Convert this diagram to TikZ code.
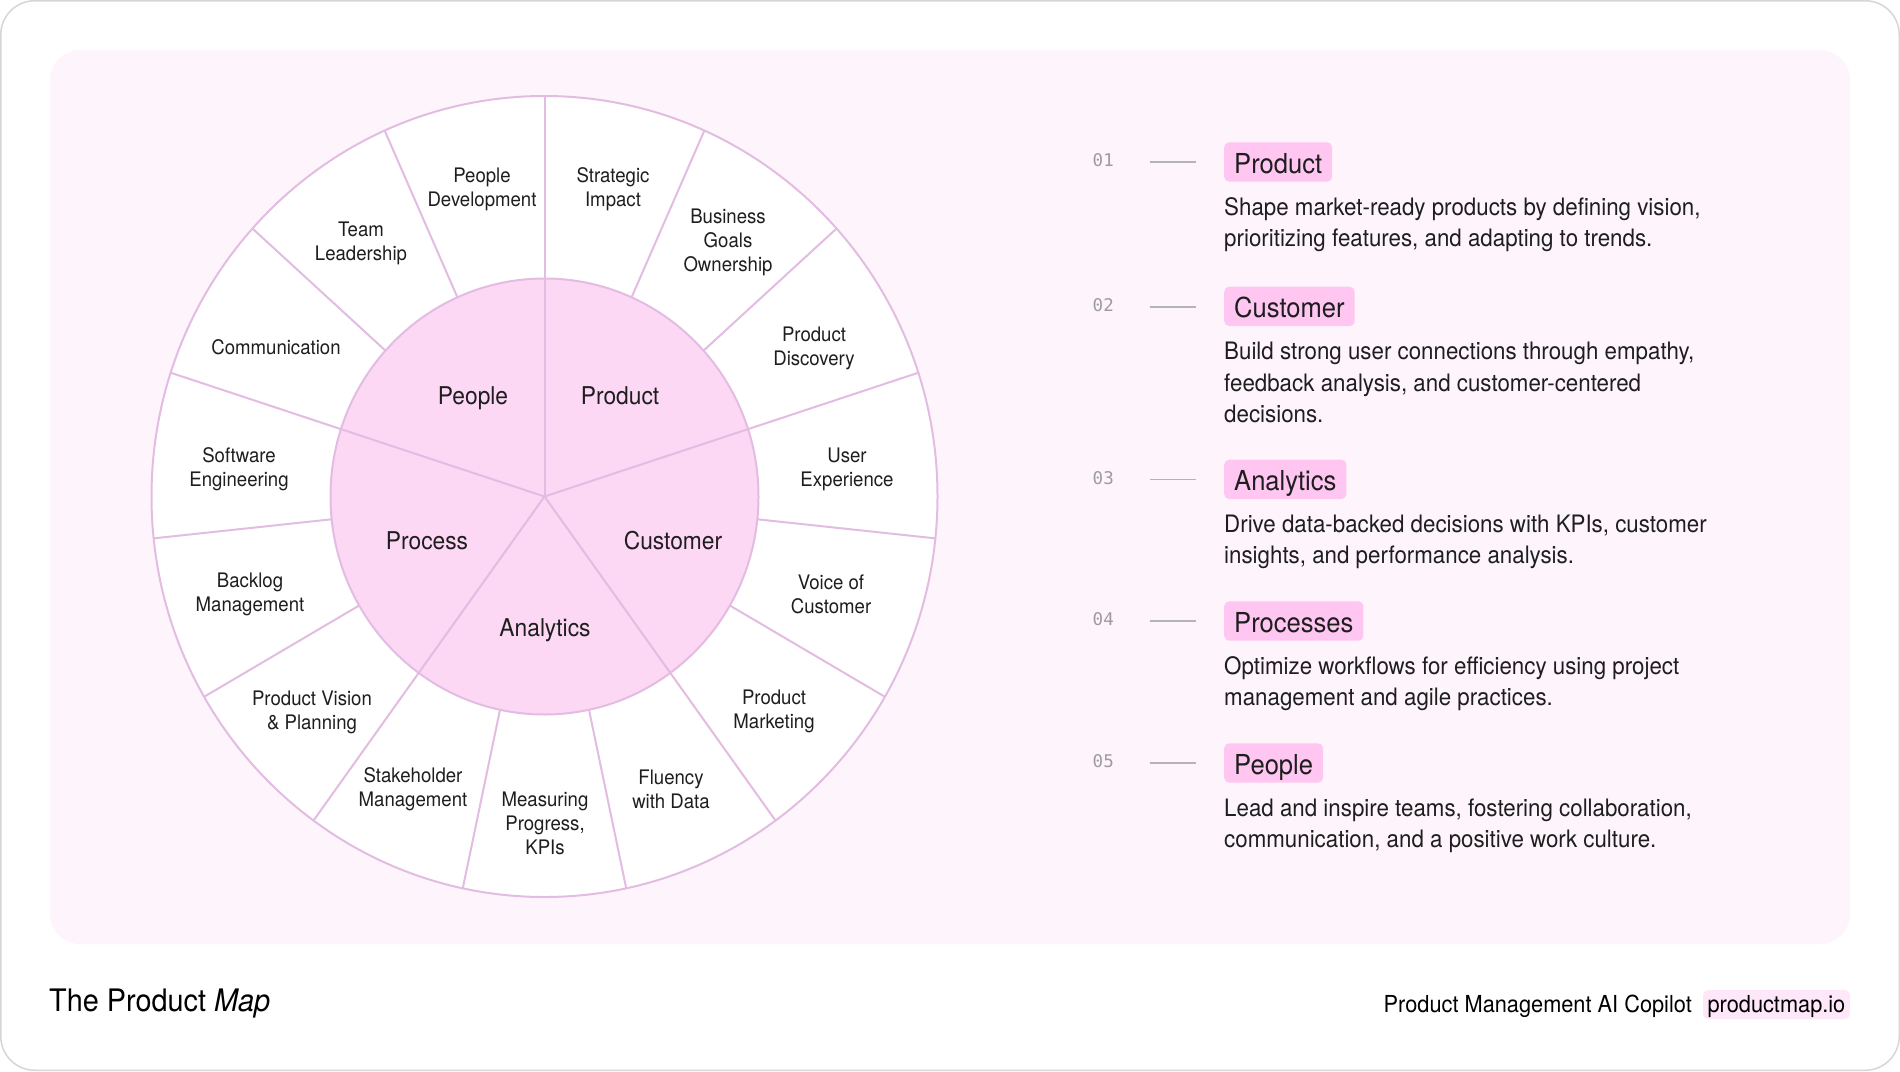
\documentclass[tikz,border=0pt]{standalone}
\usepackage{fontspec}
\setmainfont{TeX Gyre Heros}[FakeStretch=0.93]
\newfontfamily\numfont{DejaVu Sans Mono}
\definecolor{framegray}{HTML}{D6D6D6}
\definecolor{panelbg}{HTML}{FEF5FC}
\definecolor{wheelline}{HTML}{E3BCE2}
\definecolor{corefill}{HTML}{FCD8F5}
\definecolor{tagfill}{HTML}{FEC6F1}
\definecolor{urlfill}{HTML}{FDE7F9}
\definecolor{ink}{HTML}{1E1E1E}
\definecolor{numgray}{HTML}{9C9C9C}
\definecolor{dashgray}{HTML}{B4B4B4}
\begin{document}
\begin{tikzpicture}[x=1pt,y=-1pt,
  wheel/.style={draw=wheelline, line width=2pt},
  seglabel/.style={align=center, text=ink, font=\fontsize{20}{24.2}\selectfont, inner sep=0pt},
  corelabel/.style={text=ink, font=\fontsize{24.5}{28}\selectfont, inner sep=0pt, text height=17.5pt, text depth=5pt},
  numlabel/.style={anchor=base west, text=numgray, font=\numfont\fontsize{17.5}{20}\selectfont, inner sep=0pt},
  dashline/.style={draw=dashgray, line width=1.8pt},
  tagbox/.style={anchor=base west, fill=tagfill, rounded corners=5pt, text=ink,
    font=\fontsize{27.5}{30}\selectfont, inner xsep=10pt, inner ysep=8.4pt, text height=22.6pt, text depth=0pt},
  desc/.style={anchor=base west, text=ink, font=\fontsize{24}{31.6}\selectfont, inner sep=0pt},
  urlbox/.style={anchor=base east, fill=urlfill, rounded corners=5pt, text=black,
    font=\fontsize{23.4}{26}\selectfont, inner xsep=4.5pt, inner ysep=6pt, text height=16.3pt, text depth=0.7pt}
]
\useasboundingbox (0,0) rectangle (1900,1071);
\fill[white] (0,0) rectangle (1900,1071);
\draw[framegray, line width=1.5pt, rounded corners=34pt] (0.75,0.75) rectangle (1899.25,1070.25);
\fill[panelbg, rounded corners=30pt] (50,50) rectangle (1850,944);

% wheel
\begin{scope}[shift={(544.5,496.5)}]
  \filldraw[fill=white, wheel] (0,0) ellipse [x radius=393pt, y radius=400.5pt];
  \foreach \a in {18,42,...,354}
    \draw[wheel] (\a:214pt and 218pt) -- (\a:393pt and 400.5pt);
  \filldraw[fill=corefill, wheel] (0,0) ellipse [x radius=214pt, y radius=218pt];
  \foreach \a in {18,90,...,306}
    \draw[wheel] (0,0) -- (\a:214pt and 218pt);
\end{scope}

% outer ring labels
\node[seglabel] (s01) at (482,189.5) {People\\Development};
\node[seglabel] (s02) at (613,189.5) {Strategic\\Impact};
\node[seglabel] (s03) at (728,242.5) {Business\\Goals\\Ownership};
\node[seglabel] (s04) at (814,348.5) {Product\\Discovery};
\node[seglabel] (s05) at (847,469.5) {User\\Experience};
\node[seglabel] (s06) at (831,594.5) {Voice of\\Customer};
\node[seglabel] (s07) at (774,711.5) {Product\\Marketing};
\node[seglabel] (s08) at (671,789.5) {Fluency\\with Data};
\node[seglabel] (s09) at (545,823.5) {Measuring\\Progress,\\KPIs};
\node[seglabel] (s10) at (413,789.5) {Stakeholder\\Management};
\node[seglabel] (s11) at (312,712) {Product Vision\\\& Planning};
\node[seglabel] (s12) at (250,594.5) {Backlog\\Management};
\node[seglabel] (s13) at (239,469.5) {Software\\Engineering};
\node[seglabel] (s14) at (276,347.5) {Communication};
\node[seglabel] (s15) at (361,243.5) {Team\\Leadership};

% core labels
\node[corelabel] (c1) at (473,398) {People};
\node[corelabel] (c2) at (620,398) {Product};
\node[corelabel] (c3) at (673,543.5) {Customer};
\node[corelabel] (c4) at (545,630.5) {Analytics};
\node[corelabel] (c5) at (427,543.5) {Process};

% right column
\node[numlabel] (n1) at (1092.5,166.7) {01};
\coordinate (a1) at (1150,162.2); \coordinate (b1) at (1196,162.2);
\draw[dashline] (a1) -- (b1);
\node[tagbox] (t1) at (1224,173.3) {Product};
\node[desc] (d11) at (1224,215.0) {Shape market-ready products by defining vision,};
\node[desc] (d12) at (1224,246.6) {prioritizing features, and adapting to trends.};

\node[numlabel] (n2) at (1092.5,311.1) {02};
\coordinate (a2) at (1150,306.6); \coordinate (b2) at (1196,306.6);
\draw[dashline] (a2) -- (b2);
\node[tagbox] (t2) at (1224,317.7) {Customer};
\node[desc] (d21) at (1224,359.4) {Build strong user connections through empathy,};
\node[desc] (d22) at (1224,391.0) {feedback analysis, and customer-centered};
\node[desc] (d23) at (1224,422.6) {decisions.};

\node[numlabel] (n3) at (1092.5,484.0) {03};
\coordinate (a3) at (1150,479.5); \coordinate (b3) at (1196,479.5);
\draw[dashline] (a3) -- (b3);
\node[tagbox] (t3) at (1224,490.6) {Analytics};
\node[desc] (d31) at (1224,532.3) {Drive data-backed decisions with KPIs, customer};
\node[desc] (d32) at (1224,563.9) {insights, and performance analysis.};

\node[numlabel] (n4) at (1092.5,625.7) {04};
\coordinate (a4) at (1150,621.2); \coordinate (b4) at (1196,621.2);
\draw[dashline] (a4) -- (b4);
\node[tagbox] (t4) at (1224,632.3) {Processes};
\node[desc] (d41) at (1224,674.0) {Optimize workflows for efficiency using project};
\node[desc] (d42) at (1224,705.6) {management and agile practices.};

\node[numlabel] (n5) at (1092.5,767.7) {05};
\coordinate (a5) at (1150,763.2); \coordinate (b5) at (1196,763.2);
\draw[dashline] (a5) -- (b5);
\node[tagbox] (t5) at (1224,774.3) {People};
\node[desc] (d51) at (1224,816.0) {Lead and inspire teams, fostering collaboration,};
\node[desc] (d52) at (1224,847.6) {communication, and a positive work culture.};

% footer
\node[anchor=base west, inner sep=0pt, text=black, font=\fontsize{31}{34}\selectfont] (title) at (49,1011) {The Product \textit{Map}};
\node[urlbox] (url) at (1850,1012.3) {productmap.io};
\node[anchor=base east, inner sep=0pt, text=black, font=\fontsize{23.4}{26}\selectfont] (copilot) at (1692,1012.3) {Product Management AI Copilot};
\end{tikzpicture}
\end{document}
